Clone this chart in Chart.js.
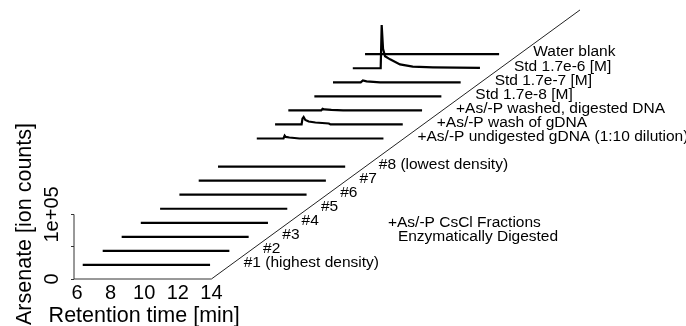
<!DOCTYPE html>
<html lang="en">
<head>
    <meta charset="UTF-8">
    <title>Arsenate waterfall</title>
    <style>
        html, body { margin: 0; padding: 0; background: #fff; }
        canvas { display: block; }
    </style>
</head>
<body>
    <canvas id="myChart" width="686" height="326"></canvas>
    <script src="https://cdn.jsdelivr.net/npm/chart.js"></script>
    <script>
        // trace labels, front (depth 0) to back
        const traceNames = [
            '#1 (highest density)', '#2', '#3', '#4', '#5', '#6', '#7', '#8 (lowest density)',
            '+As/-P undigested gDNA (1:10 dilution)', '+As/-P wash of gDNA', '+As/-P washed, digested DNA',
            'Std 1.7e-8 [M]', 'Std 1.7e-7 [M]', 'Std 1.7e-6 [M]', 'Water blank'
        ];
        const traceDepth = [0, 1, 2, 3, 4, 5, 6, 7, 9, 10, 11, 12, 13, 14, 15];

        // retention time [min] and arsenate [ion counts] per trace
        const traceTimes = [
            [6.34, 13.92],
            [6.38, 13.92],
            [6.36, 13.92],
            [6.35, 13.92],
            [6.35, 13.92],
            [6.35, 13.92],
            [6.35, 13.92],
            [6.35, 13.92],
            [6.36, 7.95, 8.02, 8.08, 8.3, 8.9, 13.9],
            [6.30, 7.88, 7.93, 8.0, 8.1, 8.3, 8.7, 9.5, 9.6, 13.9],
            [5.94, 7.9, 7.98, 8.1, 8.5, 9.2, 13.9],
            [6.34, 13.9],
            [6.30, 7.95, 8.08, 8.3, 9.1, 13.9],
            [6.33, 7.99, 8.05, 8.13, 8.25, 8.55, 9.14, 9.9, 11.1, 12.5, 13.9],
            [5.91, 13.89]
        ];
        const traceCounts = [
            [0, 0],
            [0, 0],
            [0, 0],
            [0, 0],
            [0, 0],
            [0, 0],
            [0, 0],
            [0, 0],
            [0, 0, 4500, 2500, 1500, 0, 0],
            [0, 0, 9000, 11500, 7000, 4500, 3000, 1500, 0, 0],
            [0, 0, 2500, 1500, 800, 0, 0],
            [0, 0],
            [0, 0, 3000, 1500, 0, 0],
            [0, 0, 67000, 30000, 18500, 13800, 6000, 2600, 1500, 1000, 600],
            [0, 0]
        ];

        const xTickValues = [6, 8, 10, 12, 14];
        const yTickValues = [0, 50000, 100000];
        const yTickLabels = ['0', '', '1e+05'];

        const noteLines = ['+As/-P CsCl Fractions', 'Enzymatically Digested'];

        // waterfall offsets per depth step
        const depthStepMin = 1.149;
        const depthStepCounts = 21770;

        const FONT = '"Liberation Sans", Arial, Helvetica, sans-serif';

        const datasets = traceNames.map((name, i) => {
            const d = traceDepth[i];
            return {
                label: name,
                data: traceTimes[i].map((t, j) => ({ x: t + d * depthStepMin, y: traceCounts[i][j] + (d + 1) * depthStepCounts })),
                borderColor: '#000',
                borderWidth: 2.2,
                pointRadius: 0,
                tension: 0
            };
        });

        // front axes and depth axis
        datasets.push({
            label: 'y axis',
            data: [{ x: 5.821, y: 0 }, { x: 5.821, y: 100000 }],
            borderColor: '#333', borderWidth: 1, pointRadius: 0, clip: false
        });
        datasets.push({
            label: 'x axis',
            data: [{ x: 5.821, y: 0 }, { x: 14, y: 0 }],
            borderColor: '#333', borderWidth: 1, pointRadius: 0, clip: false
        });
        datasets.push({
            label: 'depth axis',
            data: [{ x: 14, y: 0 }, { x: 35.94, y: 416900 }],
            borderColor: '#222', borderWidth: 1, pointRadius: 0, clip: false
        });

        const textPlugin = {
            id: 'waterfallText',
            afterDatasetsDraw(chart) {
                const { ctx, scales: { x, y } } = chart;
                ctx.save();
                ctx.fillStyle = '#000';
                ctx.font = '15.5px ' + FONT;
                ctx.textBaseline = 'middle';
                ctx.textAlign = 'left';
                traceNames.forEach((name, i) => {
                    const d = traceDepth[i] + 1;
                    const px = x.getPixelForValue(14 + d * depthStepMin) + 13;
                    const py = y.getPixelForValue(d * depthStepCounts) - 2;
                    ctx.fillText(name, px, py);
                });
                ctx.fillText(noteLines[0], x.getPixelForValue(24.51), y.getPixelForValue(87700));
                ctx.fillText(noteLines[1], x.getPixelForValue(25.1), y.getPixelForValue(66200));

                // axis titles
                ctx.font = '21.5px ' + FONT;
                ctx.textAlign = 'center';
                ctx.fillText('Retention time [min]', x.getPixelForValue(10), 316);
                ctx.translate(25, 224);
                ctx.rotate(-Math.PI / 2);
                ctx.fillText('Arsenate [ion counts]', 0, 0);
                ctx.restore();
            }
        };

        new Chart(document.getElementById('myChart'), {
            type: 'line',
            data: { datasets },
            plugins: [textPlugin],
            options: {
                responsive: false,
                devicePixelRatio: 1,
                animation: false,
                layout: { padding: 0 },
                plugins: { legend: { display: false }, tooltip: { enabled: false } },
                scales: {
                    x: {
                        type: 'linear',
                        min: 5.821,
                        max: 42.25,
                        afterBuildTicks: s => { s.ticks = xTickValues.map(v => ({ value: v })); },
                        afterFit: s => { s.height = 47; },
                        grid: { display: false, drawTicks: false },
                        border: { display: false },
                        ticks: { color: '#000', font: { family: FONT, size: 20 }, padding: 2, maxRotation: 0, autoSkip: false }
                    },
                    y: {
                        type: 'linear',
                        min: 0,
                        max: 429200,
                        afterBuildTicks: s => { s.ticks = yTickValues.map(v => ({ value: v })); },
                        afterFit: s => { s.width = 74; },
                        grid: { display: true, drawOnChartArea: false, drawTicks: true, tickLength: 3, color: '#333' },
                        border: { display: false },
                        ticks: {
                            color: '#000', font: { family: FONT, size: 20 },
                            minRotation: 90, maxRotation: 90, crossAlign: 'center', padding: -10,
                            autoSkip: false,
                            callback: v => yTickLabels[yTickValues.indexOf(v)]
                        }
                    }
                }
            }
        });
    </script>
</body>
</html>
